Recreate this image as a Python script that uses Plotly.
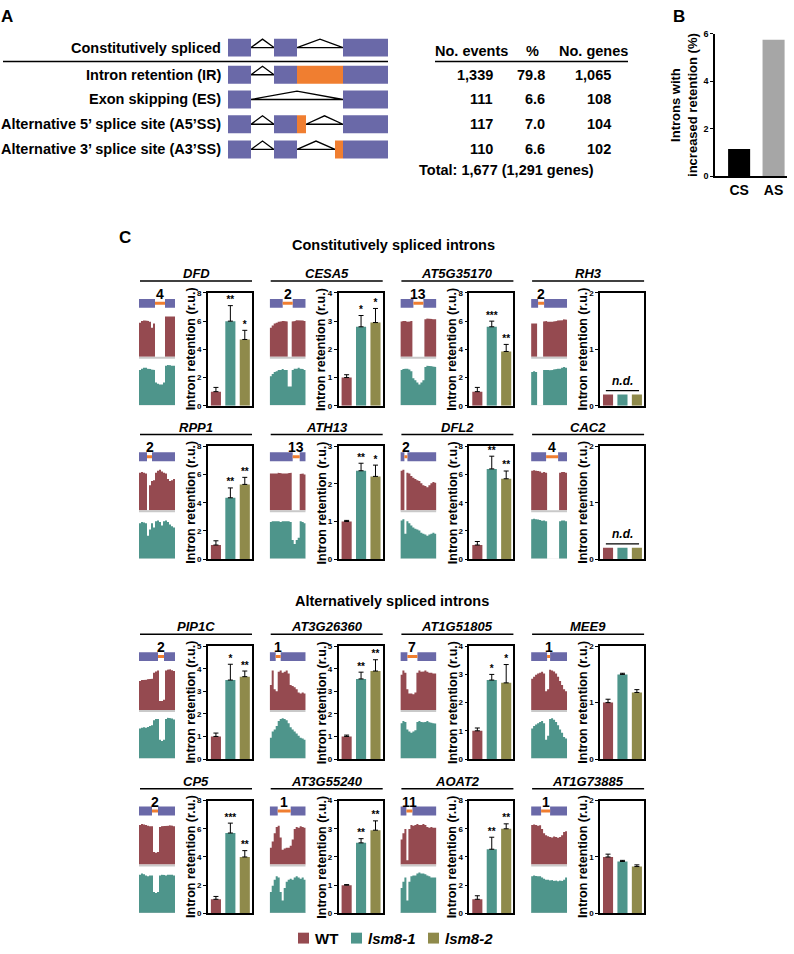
import plotly.graph_objects as go

W, H = 794, 954
FONT = "Liberation Sans, Arial, sans-serif"

C_WT = "#954a50"
C_L1 = "#4e958b"
C_L2 = "#8f8a4b"
C_EXON = "#6a69a8"
C_ORANGE = "#f07e30"
C_BASE = "#c9c9c9"
C_CS = "#000000"
C_AS = "#a6a6a6"

# ---------------- Panel A data ----------------
A_LABELS = ["Constitutively spliced", "Intron retention (IR)", "Exon skipping (ES)",
            "Alternative 5\u2019 splice site (A5\u2019SS)", "Alternative 3\u2019 splice site (A3\u2019SS)"]
A_EXONS = [
    [[0, 23], [46, 69], [115, 160]],
    [[0, 23], [46, 69], [115, 160]],
    [[0, 23], [115, 160]],
    [[0, 23], [46, 69], [115, 160]],
    [[0, 23], [46, 69], [115, 160]],
]
A_RETAINED = [[], [[69, 115]], [], [[69, 78]], [[107, 115]]]
A_INTRONS = [[[23, 46], [69, 115]], [[23, 46]], [[23, 115]], [[23, 46], [78, 115]], [[23, 46], [69, 107]]]

TABLE_EVENTS = ["1,339", "111", "117", "110"]
TABLE_PCT = ["79.8", "6.6", "7.0", "6.6"]
TABLE_GENES = ["1,065", "108", "104", "102"]
TABLE_TOTAL = "Total: 1,677 (1,291 genes)"

# ---------------- Panel B data ----------------
B_CATS = ["CS", "AS"]
B_VALS = [1.15, 5.75]

# ---------------- Panel C data ----------------
GENES = ["DFD", "CESA5", "AT5G35170", "RH3", "RPP1", "ATH13", "DFL2", "CAC2",
         "PIP1C", "AT3G26360", "AT1G51805", "MEE9", "CP5", "AT3G55240", "AOAT2", "AT1G73885"]
INTRON_NO = ["4", "2", "13", "2", "2", "13", "2", "4", "2", "1", "7", "1", "2", "1", "11", "1"]
# intron start / end within the gene model (track units, 0..36)
INTRON_START = [16, 13, 13, 7, 8, 23, 4, 15, 19, 6, 7, 16, 13, 8, 6, 10]
INTRON_END = [26, 23, 23, 13, 13, 30, 7, 27, 25, 11, 17, 19, 19, 21, 12, 19]
Y_MAX = [8, 4, 8, 2, 8, 3, 8, 2, 5, 5, 4, 2, 8, 4, 8, 2]
Y_DTICK = [2, 1, 2, 1, 2, 1, 2, 1, 1, 1, 1, 1, 2, 1, 2, 1]
WT = [1.0, 1.0, 1.0, None, 1.0, 1.0, 1.0, None, 1.0, 1.0, 1.0, 1.0, 1.0, 1.0, 1.0, 1.0]
WT_ERR = [0.3, 0.1, 0.3, 0, 0.3, 0.03, 0.25, 0, 0.15, 0.06, 0.1, 0.06, 0.2, 0.02, 0.25, 0.05]
LSM81 = [6.0, 2.8, 5.6, None, 4.35, 2.35, 6.4, None, 3.5, 3.55, 2.8, 1.5, 5.7, 2.5, 4.55, 0.92]
LSM81_ERR = [1.1, 0.4, 0.4, 0, 0.7, 0.2, 0.9, 0, 0.7, 0.3, 0.2, 0.02, 0.7, 0.15, 0.85, 0.02]
LSM82 = [4.7, 2.95, 3.85, None, 5.3, 2.2, 5.7, None, 3.65, 3.9, 2.7, 1.18, 4.0, 2.95, 6.0, 0.83]
LSM82_ERR = [0.65, 0.5, 0.5, 0, 0.5, 0.3, 0.55, 0, 0.25, 0.5, 0.65, 0.05, 0.45, 0.33, 0.35, 0.03]
STARS_81 = ["**", "*", "***", "", "**", "**", "**", "", "*", "**", "*", "", "***", "**", "**", ""]
STARS_82 = ["*", "*", "**", "", "**", "*", "**", "", "**", "**", "*", "", "**", "**", "**", ""]
ND_LEVEL = 0.2

# RNA-seq coverage profiles (relative height, 18 bins per gene model)
COV_WT = [
    [0.82, 0.86, 0.87, 0.87, 0.86, 0.84, 0.70, 0.80, 0, 0, 0, 0, 0, 0.97, 0.98, 0.98, 0.97, 0.97],
    [0.70, 0.75, 0.80, 0.82, 0.84, 0.85, 0.86, 0.86, 0.85, 0, 0, 0.85, 0.86, 0.88, 0.87, 0.88, 0.87, 0.86],
    [0.85, 0.86, 0.86, 0.84, 0.85, 0.86, 0, 0, 0, 0, 0, 0, 0.90, 0.92, 0.92, 0.91, 0.90, 0.90],
    [0.80, 0.80, 0.80, 0, 0, 0, 0.85, 0.86, 0.84, 0.83, 0.84, 0.85, 0.86, 0.87, 0.87, 0.88, 0.90, 0.89],
    [0.90, 0.92, 0.90, 0.88, 0, 0.60, 0.70, 0.72, 0.90, 0.95, 0.97, 0.93, 0.90, 0.88, 0.75, 0.70, 0.72, 0.75],
    [0.88, 0.88, 0.87, 0.88, 0.90, 0.89, 0.88, 0.87, 0.88, 0.89, 0.90, 0, 0, 0, 0, 0.87, 0.88, 0.86],
    [0.95, 0.97, 0, 0.90, 0.88, 0.82, 0.78, 0.75, 0.72, 0.70, 0.65, 0.60, 0.58, 0.55, 0.60, 0.65, 0.68, 0.66],
    [0.95, 0.96, 0.95, 0.94, 0.93, 0.90, 0.92, 0.90, 0, 0, 0, 0, 0, 0, 0.90, 0.92, 0.92, 0.90],
    [0.70, 0.72, 0.72, 0.73, 0.74, 0.75, 0.75, 0.90, 0.93, 0.95, 0.22, 0.22, 0.25, 0.95, 0.97, 0.98, 0.96, 0.94],
    [0.60, 0.95, 0.50, 0.45, 0.92, 0.95, 0.90, 0.92, 0.95, 0.88, 0.60, 0.58, 0.55, 0.50, 0.42, 0.40, 0.42, 0.40],
    [0.85, 0.95, 0.90, 0.50, 0.40, 0.40, 0.38, 0.42, 0.90, 0.95, 0.92, 0.93, 0.95, 0.92, 0.90, 0.90, 0.88, 0.88],
    [0.75, 0.80, 0.85, 0.88, 0.90, 0.92, 0.88, 0.45, 0.50, 0.97, 0.95, 0.93, 0.88, 0.80, 0.70, 0.60, 0.50, 0.45],
    [0.95, 0.97, 0.96, 0.95, 0.93, 0.92, 0.92, 0.30, 0.28, 0.30, 0.90, 0.92, 0.93, 0.92, 0.93, 0.94, 0.93, 0.92],
    [0.40, 0.55, 0.75, 0.90, 0.93, 0.65, 0.35, 0.38, 0.40, 0.40, 0.45, 0.60, 0.85, 0.90, 0.88, 0.92, 0.90, 0.88],
    [0.60, 0.75, 0.85, 0.10, 0.85, 0.95, 0.93, 0.95, 0.97, 0.95, 0.95, 0.97, 0.95, 0.90, 0.88, 0.90, 0.88, 0.88],
    [0.95, 0.96, 0.95, 0.93, 0.94, 0.85, 0.75, 0.70, 0.68, 0.66, 0.65, 0.67, 0.66, 0.64, 0.66, 0.70, 0.78, 0.80],
]
COV_LSM = [
    [0.85, 0.88, 0.90, 0.90, 0.88, 0.87, 0.86, 0.85, 0.55, 0.52, 0.50, 0.50, 0.55, 0.95, 0.97, 0.96, 0.95, 0.95],
    [0.70, 0.75, 0.80, 0.82, 0.85, 0.85, 0.87, 0.85, 0.85, 0.45, 0.45, 0.85, 0.88, 0.88, 0.90, 0.88, 0.87, 0.85],
    [0.85, 0.87, 0.88, 0.88, 0.86, 0.82, 0.65, 0.60, 0.55, 0.50, 0.55, 0.60, 0.92, 0.95, 0.95, 0.94, 0.93, 0.92],
    [0.80, 0.82, 0.80, 0, 0, 0, 0.85, 0.86, 0.85, 0.84, 0.85, 0.86, 0.87, 0.88, 0.88, 0.90, 0.92, 0.90],
    [0.85, 0.88, 0.87, 0.85, 0.55, 0.70, 0.85, 0.75, 0.90, 0.92, 0.88, 0.80, 0.90, 0.92, 0.88, 0.82, 0.78, 0.75],
    [0.88, 0.90, 0.90, 0.89, 0.90, 0.88, 0.90, 0.91, 0.90, 0.90, 0.88, 0.45, 0.35, 0.45, 0.50, 0.90, 0.88, 0.85],
    [0.92, 0.95, 0.60, 0.90, 0.85, 0.80, 0.75, 0.72, 0.70, 0.68, 0.62, 0.60, 0.58, 0.55, 0.58, 0.60, 0.62, 0.60],
    [0.95, 0.96, 0.95, 0.94, 0.93, 0.91, 0.92, 0.90, 0, 0, 0, 0, 0, 0, 0.90, 0.92, 0.92, 0.90],
    [0.72, 0.74, 0.75, 0.74, 0.76, 0.78, 0.80, 0.92, 0.95, 0.95, 0.45, 0.42, 0.45, 0.95, 0.98, 0.97, 0.96, 0.94],
    [0.50, 0.65, 0.70, 0.78, 0.90, 0.95, 0.97, 0.95, 0.92, 0.85, 0.75, 0.70, 0.65, 0.60, 0.55, 0.50, 0.48, 0.45],
    [0.85, 0.90, 0.88, 0.70, 0.65, 0.62, 0.65, 0.68, 0.88, 0.90, 0.88, 0.87, 0.88, 0.90, 0.87, 0.86, 0.85, 0.84],
    [0.72, 0.78, 0.82, 0.85, 0.88, 0.90, 0.85, 0.45, 0.55, 0.95, 0.97, 0.93, 0.88, 0.80, 0.70, 0.62, 0.52, 0.48],
    [0.92, 0.95, 0.93, 0.90, 0.88, 0.90, 0.90, 0.50, 0.48, 0.50, 0.90, 0.92, 0.91, 0.90, 0.92, 0.93, 0.92, 0.90],
    [0.50, 0.65, 0.80, 0.88, 0.85, 0.50, 0.30, 0.60, 0.75, 0.80, 0.82, 0.80, 0.85, 0.88, 0.85, 0.82, 0.85, 0.80],
    [0.60, 0.75, 0.85, 0.30, 0.75, 0.88, 0.90, 0.90, 0.95, 0.97, 0.95, 0.95, 0.93, 0.90, 0.88, 0.85, 0.85, 0.85],
    [0.88, 0.90, 0.89, 0.88, 0.88, 0.85, 0.82, 0.80, 0.80, 0.78, 0.79, 0.77, 0.78, 0.76, 0.78, 0.77, 0.80, 0.85],
]

LEGEND_LABELS = ["WT", "lsm8-1", "lsm8-2"]
LEGEND_COLORS = [C_WT, C_L1, C_L2]

# ---------------- layout helpers ----------------
def fx(x):
    return x / W

def fy(y):
    return 1 - y / H

fig = go.Figure()
axes = {}
shapes = []
annotations = []
n_ax = [0]


def new_axes(x0, x1, ytop, ybot, xcfg, ycfg):
    n_ax[0] += 1
    n = n_ax[0]
    s = "" if n == 1 else str(n)
    axes["xaxis" + s] = dict(domain=[fx(x0), fx(x1)], anchor="y" + s, **xcfg)
    axes["yaxis" + s] = dict(domain=[fy(ybot), fy(ytop)], anchor="x" + s, **ycfg)
    return "x" + s, "y" + s


def hidden(rng):
    return dict(visible=False, range=rng, fixedrange=True, showgrid=False, zeroline=False)


def ann(x, y, text, size, xanchor="center", yanchor="middle", angle=0, ref=("paper", "paper")):
    if ref[0] == "paper":
        x = fx(x)
    if ref[1] == "paper":
        y = fy(y)
    annotations.append(dict(
        x=x, y=y, xref=ref[0], yref=ref[1], text=text, showarrow=False,
        xanchor=xanchor, yanchor=yanchor, textangle=angle,
        font=dict(family=FONT, size=size, color="black")))


def hline(x0, x1, y, width=1.5, color="black"):
    shapes.append(dict(type="line", xref="paper", yref="paper", x0=fx(x0), x1=fx(x1),
                       y0=fy(y), y1=fy(y), line=dict(color=color, width=width)))


# ---------------- Panel A ----------------
ann(7, 12, "<b>A</b>", 17)
A_ROW_Y = [43, 70.5, 95.5, 120.5, 146]
ax_x, ax_y = new_axes(228, 388, 30, 156, hidden([0, 160]), hidden([156, 30]))
for r, label in enumerate(A_LABELS):
    yc = A_ROW_Y[r]
    ann(223, yc, "<b>%s</b>" % label, 14.5, xanchor="right")
    for e0, e1 in A_EXONS[r]:
        shapes.append(dict(type="rect", xref=ax_x, yref=ax_y, x0=e0, x1=e1, y0=yc - 9, y1=yc + 9,
                           fillcolor=C_EXON, line=dict(width=0)))
    for e0, e1 in A_RETAINED[r]:
        shapes.append(dict(type="rect", xref=ax_x, yref=ax_y, x0=e0, x1=e1, y0=yc - 9, y1=yc + 9,
                           fillcolor=C_ORANGE, line=dict(width=0)))
    for i0, i1 in A_INTRONS[r]:
        fig.add_trace(go.Scatter(x=[i0, (i0 + i1) / 2, i1, i0], y=[yc, yc - 8.5, yc, yc],
                                 mode="lines", line=dict(color="black", width=1.3),
                                 xaxis=ax_x, yaxis=ax_y, hoverinfo="skip"))
hline(3, 388, 57)

# table
ann(471.5, 46, "<b>No. events</b>", 14.5)
ann(532, 46, "<b>%</b>", 14.5)
ann(593.5, 46, "<b>No. genes</b>", 14.5)
hline(435, 628, 57)
for i in range(4):
    yc = A_ROW_Y[i + 1]
    ann(495, yc, "<b>%s</b>" % TABLE_EVENTS[i], 14.5, xanchor="right")
    ann(547, yc, "<b>%s</b>" % TABLE_PCT[i], 14.5, xanchor="right")
    ann(613, yc, "<b>%s</b>" % TABLE_GENES[i], 14.5, xanchor="right")
ann(417, 167, "<b>%s</b>" % TABLE_TOTAL, 14.5, xanchor="left")

# ---------------- Panel B ----------------
ann(679, 12, "<b>B</b>", 17)
bx, by = new_axes(715, 787, 29, 173,
                  dict(range=[-0.70, 1.39], showline=True, linecolor="black", linewidth=1.5,
                       ticks="", showgrid=False, zeroline=False, fixedrange=True,
                       tickmode="array", tickvals=[0, 1], ticktext=B_CATS,
                       tickfont=dict(family=FONT, size=14, color="black", weight="bold")),
                  dict(range=[0, 6], dtick=2, showline=True, linecolor="black", linewidth=1.5,
                       ticks="outside", ticklen=3, tickwidth=1, tickcolor="black",
                       showgrid=False, zeroline=False, fixedrange=True,
                       tickfont=dict(family=FONT, size=9, color="black", weight="bold")))
fig.add_trace(go.Bar(x=[0, 1], y=B_VALS, width=0.64, marker=dict(color=[C_CS, C_AS], line=dict(width=0)),
                     xaxis=bx, yaxis=by, hoverinfo="skip"))
ann(684, 101, "<b>Introns with<br>increased retention (%)</b>", 13, angle=-90)

# ---------------- Panel C ----------------
ann(125, 235, "<b>C</b>", 17)
ann(393, 243, "<b>Constitutively spliced introns</b>", 14.5)
ann(392, 602, "<b>Alternatively spliced introns</b>", 14.5)

COL_X = [140 + 130.7 * i for i in range(4)]
ROW_L = [279, 434, 636, 792]
TRACK_SCALE = 42
RED_BASE = 49

for g, name in enumerate(GENES):
    row, col = divmod(g, 4)
    c = COL_X[col]
    L = ROW_L[row]
    # header
    hline(c, c + 112, L, width=1.5)
    ann(c + 56, L - 7.5, "<b><i>%s</i></b>" % name, 13)

    # ---- coverage track + gene model
    tx, ty = new_axes(c - 1, c + 35, L + 0.5, L + 125.5, hidden([0, 36]), hidden([0, 125]))
    for base, cov, color in [(RED_BASE, COV_WT[g], C_WT), (0, COV_LSM[g], C_L1)]:
        xs, ys = [0], [base]
        for i, v in enumerate(cov):
            xs += [2 * i, 2 * i + 2]
            ys += [base + v * TRACK_SCALE, base + v * TRACK_SCALE]
        xs += [36, 0]
        ys += [base, base]
        fig.add_trace(go.Scatter(x=xs, y=ys, mode="lines", fill="toself", fillcolor=color,
                                 line=dict(width=0, color=color), xaxis=tx, yaxis=ty, hoverinfo="skip"))
        shapes.append(dict(type="line", xref=tx, yref=ty, x0=0, x1=36, y0=base - 1, y1=base - 1,
                           line=dict(color=C_BASE, width=2)))
    s0, s1 = INTRON_START[g], INTRON_END[g]
    for e0, e1 in [(0, s0), (s1, 36)]:
        shapes.append(dict(type="rect", xref=tx, yref=ty, x0=e0, x1=e1, y0=98.5, y1=107.5,
                           fillcolor=C_EXON, line=dict(width=0)))
    shapes.append(dict(type="rect", xref=tx, yref=ty, x0=s0, x1=s1, y0=101.5, y1=104.5,
                       fillcolor=C_ORANGE, line=dict(width=0)))
    ann((s0 + s1) / 2, 112.5, "<b>%s</b>" % INTRON_NO[g], 14, ref=(tx, ty))

    # ---- bar chart
    ymax = Y_MAX[g]
    bxr, byr = new_axes(c + 68, c + 112, L + 12, L + 126,
                        dict(range=[-0.55, 2.5], showline=True, mirror=True, linecolor="black",
                             linewidth=1.8, showticklabels=False, ticks="", showgrid=False,
                             zeroline=False, fixedrange=True),
                        dict(range=[0, ymax], tick0=0, dtick=Y_DTICK[g], showline=True, mirror=True,
                             linecolor="black", linewidth=1.8, ticks="outside", ticklen=3, tickwidth=1,
                             tickcolor="black", showgrid=False, zeroline=False, fixedrange=True,
                             tickfont=dict(family=FONT, size=8, color="black", weight="bold")))
    ann(c + 51, L + 69, "<b>Intron retention (r.u.)</b>", 12.5, angle=-90)
    if WT[g] is None:
        fig.add_trace(go.Bar(x=[0, 1, 2], y=[ND_LEVEL] * 3, width=0.7,
                             marker=dict(color=[C_WT, C_L1, C_L2], line=dict(width=0)),
                             xaxis=bxr, yaxis=byr, hoverinfo="skip"))
        shapes.append(dict(type="line", xref=bxr, yref=byr, x0=-0.15, x1=2.15,
                           y0=ymax * 0.135, y1=ymax * 0.135, line=dict(color="black", width=1.2)))
        ann(1, ymax * 0.14, "<b><i>n.d.</i></b>", 12, yanchor="bottom", ref=(bxr, byr))
    else:
        vals = [WT[g], LSM81[g], LSM82[g]]
        errs = [WT_ERR[g], LSM81_ERR[g], LSM82_ERR[g]]
        fig.add_trace(go.Bar(x=[0, 1, 2], y=vals, width=0.7,
                             marker=dict(color=[C_WT, C_L1, C_L2], line=dict(width=0)),
                             error_y=dict(type="data", array=errs, arrayminus=[0, 0, 0], symmetric=False,
                                          color="black", thickness=1, width=2.5),
                             xaxis=bxr, yaxis=byr, hoverinfo="skip"))
        fig.add_trace(go.Scatter(x=[1, 2], y=[vals[1] + errs[1], vals[2] + errs[2]], mode="text",
                                 text=[STARS_81[g], STARS_82[g]], textposition="top center",
                                 textfont=dict(family=FONT, size=10, color="black", weight="bold"),
                                 cliponaxis=False, xaxis=bxr, yaxis=byr, hoverinfo="skip"))

# ---------------- Legend ----------------
LEG_SQ_X = [298, 351, 428]
for lab, col, x0 in zip(LEGEND_LABELS, LEGEND_COLORS, LEG_SQ_X):
    shapes.append(dict(type="rect", xref="paper", yref="paper", x0=fx(x0), x1=fx(x0 + 11),
                       y0=fy(948.5), y1=fy(937.5), fillcolor=col, line=dict(width=0)))
    txt = "<b>%s</b>" % lab if lab == "WT" else "<b><i>%s</i></b>" % lab
    ann(x0 + 15, 943, txt, 15, xanchor="left")

fig.update_layout(
    width=W, height=H, margin=dict(l=0, r=0, t=0, b=0),
    paper_bgcolor="white", plot_bgcolor="white", showlegend=False,
    shapes=shapes, annotations=annotations,
    font=dict(family=FONT, color="black"),
    **axes,
)
fig.write_html(
    "out.html",
    config={"displayModeBar": False},
    post_script="document.body.style.margin='0px';document.body.style.padding='0px';"
                "document.body.style.overflow='hidden';",
)
